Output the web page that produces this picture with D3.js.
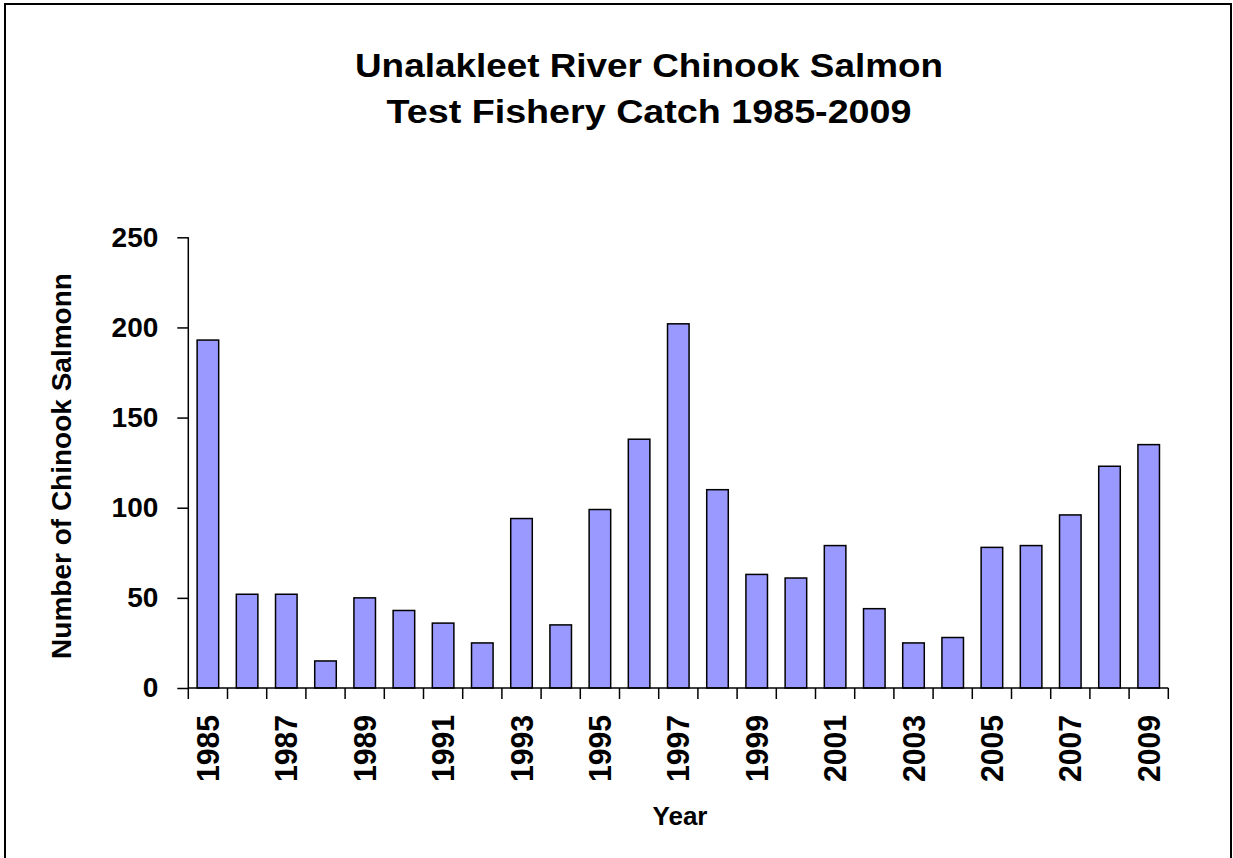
<!DOCTYPE html>
<html>
<head>
<meta charset="utf-8">
<script src="https://cdn.jsdelivr.net/npm/d3@7/dist/d3.min.js"></script>
<style>
  html, body { margin: 0; padding: 0; background: #fff; }
  svg { display: block; }
  text { font-family: "Liberation Sans", Arial, sans-serif; font-weight: bold; fill: #000; }
</style>
</head>
<body>
<svg id="chart" width="1233" height="858"></svg>
<script>
// Annual Chinook salmon catch, Unalakleet River test fishery
const years = [1985, 1986, 1987, 1988, 1989, 1990, 1991, 1992, 1993, 1994, 1995, 1996, 1997,
               1998, 1999, 2000, 2001, 2002, 2003, 2004, 2005, 2006, 2007, 2008, 2009];
const catchCounts = [193, 52, 52, 15, 50, 43, 36, 25, 94, 35, 99, 138, 202,
                     110, 63, 61, 79, 44, 25, 28, 78, 79, 96, 123, 135];
const yTicks = [0, 50, 100, 150, 200, 250];
const yearLabels = [1985, 1987, 1989, 1991, 1993, 1995, 1997, 1999, 2001, 2003, 2005, 2007, 2009];
const titleLines = ["Unalakleet River Chinook Salmon", "Test Fishery Catch 1985-2009"];
const titleWidths = [588, 525];

const svg = d3.select("#chart");
const plot = { left: 188.3, right: 1168.3, top: 237.3, bottom: 688 };

// outer frame
svg.append("rect")
  .attr("x", 5).attr("y", 4).attr("width", 1226).attr("height", 862)
  .attr("fill", "none").attr("stroke", "#000").attr("stroke-width", 2);

// title
svg.append("g").selectAll("text").data(titleLines).join("text")
  .attr("x", 649).attr("y", (d, i) => 77 + i * 46)
  .attr("text-anchor", "middle")
  .attr("textLength", (d, i) => titleWidths[i])
  .attr("lengthAdjust", "spacingAndGlyphs")
  .style("font-size", "34px")
  .text(d => d);

const x = d3.scaleBand().domain(years).range([plot.left, plot.right]).paddingInner(0.45).paddingOuter(0.225);
const y = d3.scaleLinear().domain([0, 250]).range([plot.bottom, plot.top]);

// bars
svg.append("g").selectAll("rect").data(years).join("rect")
  .attr("x", d => x(d))
  .attr("y", (d, i) => y(catchCounts[i]))
  .attr("width", x.bandwidth())
  .attr("height", (d, i) => y(0) - y(catchCounts[i]))
  .attr("fill", "#9999ff")
  .attr("stroke", "#000")
  .attr("stroke-width", 1.5);

// y axis
const yAxis = svg.append("g").attr("transform", `translate(${plot.left},0)`)
  .call(d3.axisLeft(y).tickValues(yTicks).tickSize(11).tickPadding(19).tickFormat(d3.format("d")));
yAxis.select(".domain").attr("stroke", "#000").attr("stroke-width", 1.5).attr("d", `M0,${plot.top}V${plot.bottom}`);
yAxis.selectAll(".tick line").attr("stroke", "#000").attr("stroke-width", 1.5);
yAxis.selectAll(".tick text")
  .style("font-size", "28px").style("font-family", "'Liberation Sans', Arial, sans-serif")
  .style("font-weight", "bold").attr("fill", "#000");

// x axis: ticks sit on the category boundaries
const step = x.step();
const boundaries = d3.range(years.length + 1).map(i => plot.left + i * step);
const xAxisG = svg.append("g");
xAxisG.append("line")
  .attr("x1", plot.left).attr("x2", plot.right)
  .attr("y1", plot.bottom).attr("y2", plot.bottom)
  .attr("stroke", "#000").attr("stroke-width", 1.5);
xAxisG.selectAll("line.tk").data(boundaries).join("line").attr("class", "tk")
  .attr("x1", d => d).attr("x2", d => d)
  .attr("y1", plot.bottom).attr("y2", plot.bottom + 11)
  .attr("stroke", "#000").attr("stroke-width", 1.5);
xAxisG.selectAll("text").data(yearLabels).join("text")
  .attr("transform", d => `translate(${x(d) + x.bandwidth() / 2 + 11},715) rotate(-90)`)
  .attr("text-anchor", "end")
  .attr("textLength", 67)
  .attr("lengthAdjust", "spacingAndGlyphs")
  .style("font-size", "31px")
  .text(d => d);

// axis titles
svg.append("text")
  .attr("x", 680).attr("y", 825)
  .attr("text-anchor", "middle")
  .style("font-size", "26px")
  .text("Year");

svg.append("text")
  .attr("transform", `translate(71,466) rotate(-90)`)
  .attr("text-anchor", "middle")
  .style("font-size", "28px")
  .text("Number of Chinook Salmonn");
</script>
</body>
</html>
